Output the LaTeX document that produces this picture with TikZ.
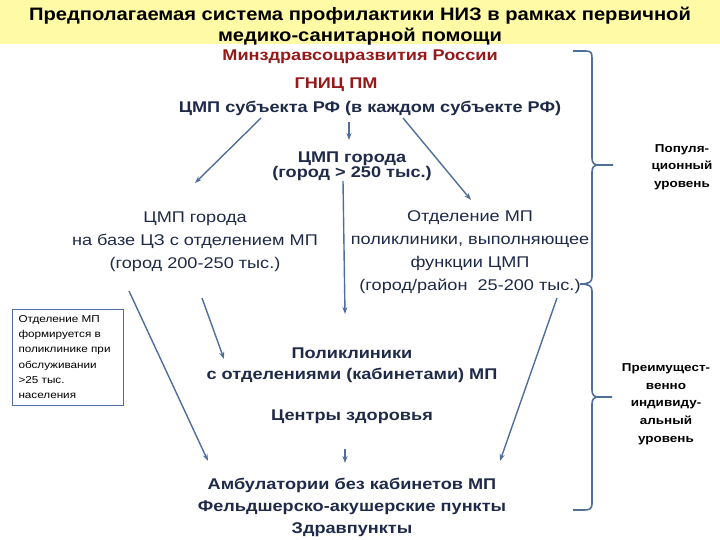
\documentclass[tikz,border=0pt]{standalone}
\usepackage{fontspec}
\setmainfont[FakeStretch=1.17]{Liberation Sans}
\newfontfamily\titlefont[FakeStretch=1.12]{Liberation Sans}
\usetikzlibrary{arrows.meta}
\definecolor{navy}{RGB}{31,42,72}
\definecolor{dred}{RGB}{150,25,25}
\definecolor{arr}{RGB}{79,110,155}
\definecolor{band}{RGB}{255,250,165}
\tikzset{
  conn/.style={draw=arr,line width=1.4pt,-{Stealth[length=7pt,width=5pt]}},
  brace/.style={draw=arr,line width=1.6pt},
  lbl/.style={text=navy,align=center,inner sep=0pt},
  bl/.style={lbl,font=\bfseries\fontsize{15.5}{21}\selectfont},
  rl/.style={lbl,font=\fontsize{15.5}{23}\selectfont},
  side/.style={align=center,inner sep=0pt,font=\bfseries\fontsize{11.5}{17.7}\selectfont}
}
\begin{document}
\begin{tikzpicture}[x=1pt,y=-1pt]
\useasboundingbox (0,0) rectangle (720,540);
\fill[band] (0,0) rectangle (720,44);
\node[align=center,inner sep=0pt,font=\titlefont\bfseries\fontsize{18}{21.5}\selectfont] (title) at (360,26) {Предполагаемая система профилактики НИЗ в рамках первичной\\медико-санитарной помощи};

\node[bl,text=dred] (min) at (360,57) {Минздравсоцразвития России};
\node[bl,text=dred] (gnic) at (336,85) {ГНИЦ ПМ};
\node[bl] (subj) at (370,108.5) {ЦМП субъекта РФ (в каждом субъекте РФ)};

\node[lbl,font=\bfseries\fontsize{15.5}{15}\selectfont] (city) at (352,166) {ЦМП города\\(город > 250 тыс.)};
\node[rl] (left) at (195,241.5) {ЦМП города\\на базе ЦЗ с отделением МП\\(город 200-250 тыс.)};
\node[rl] (right) at (470,252.5) {Отделение МП\\поликлиники, выполняющее\\функции ЦМП\\(город/район\ \ 25-200 тыс.)};

\node[bl] (poly) at (352,365) {Поликлиники\\с отделениями (кабинетами) МП};
\node[bl] (cz) at (352,417) {Центры здоровья};
\node[bl,font=\bfseries\fontsize{15.5}{22}\selectfont] (amb) at (352,507) {Амбулатории без кабинетов МП\\Фельдшерско-акушерские пункты\\Здравпункты};

\node[draw=arr,line width=0.8pt,align=left,text=black,font=\fontsize{10}{15.2}\selectfont,
  minimum width=111pt,minimum height=94pt,text width=98pt,inner sep=6.5pt] (note) at (67.5,357) {Отделение МП\\формируется в\\поликлинике при\\обслуживании\\>25 тыс.\\населения};

\node[side] (pop) at (682,167) {Популя-\\ционный\\уровень};
\node[side] (ind) at (666,404) {Преимущест-\\венно\\индивиду-\\альный\\уровень};

% arrow coordinates
\coordinate (s1) at (261,118);
\coordinate (e1) at (195,183);
\coordinate (s2) at (349,122);
\coordinate (e2) at (349,140);
\coordinate (s3) at (403,118);
\coordinate (e3) at (471,200);
\coordinate (s4) at (343,181);
\coordinate (e4) at (345,314);
\coordinate (s5) at (129,291);
\coordinate (e5) at (208,461);
\coordinate (s6) at (202,298);
\coordinate (e6) at (224,359);
\coordinate (s7) at (557,298);
\coordinate (e7) at (500,461);
\coordinate (s8) at (345,449);
\coordinate (e8) at (345,463);

\draw[conn] (s1) -- (e1);
\draw[conn] (s2) -- (e2);
\draw[conn] (s3) -- (e3);
\draw[conn] (s4) -- (e4);
\draw[conn] (s5) -- (e5);
\draw[conn] (s6) -- (e6);
\draw[conn] (s7) -- (e7);
\draw[conn] (s8) -- (e8);

% braces
\draw[brace] (573,51) -- (586,51) .. controls (591,51) and (592,53) .. (592,58)
  -- (592,158) .. controls (592,163) and (594,165) .. (599,165) -- (613,165);
\draw[brace] (599,165) .. controls (594,165) and (592,167) .. (592,172)
  -- (592,277) .. controls (592,282) and (589,284) .. (580,284);
\draw[brace] (580,284) .. controls (589,284) and (592,286) .. (592,291)
  -- (592,390) .. controls (592,395) and (594,397) .. (599,397) -- (612,397);
\draw[brace] (599,397) .. controls (594,397) and (592,399) .. (592,404)
  -- (592,504) .. controls (592,509) and (589,510) .. (584,510) -- (573,510);
\end{tikzpicture}
\end{document}
